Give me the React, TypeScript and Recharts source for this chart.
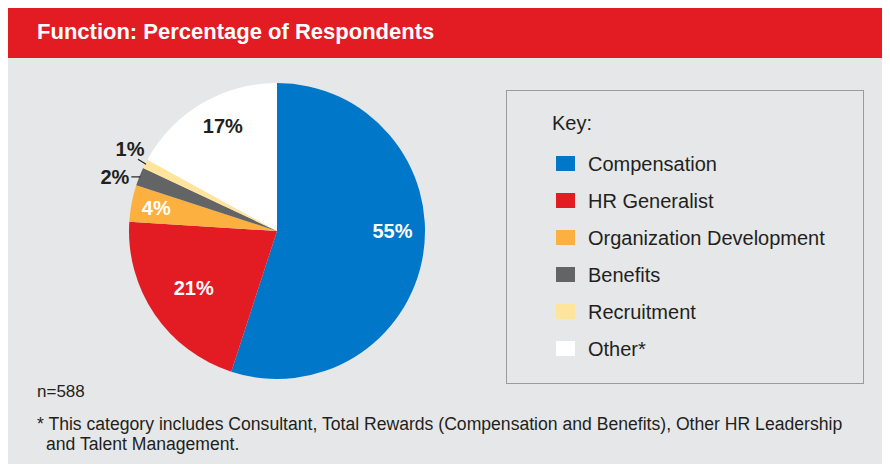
import React from 'react';
import { PieChart, Pie, Cell, Legend } from 'recharts';

// values
const categories = ['Compensation', 'HR Generalist', 'Organization Development', 'Benefits', 'Recruitment', 'Other*'];
const percentages = [55, 21, 4, 2, 1, 17];
const sampleNote = 'n=588';
const footnote =
  '* This category includes Consultant, Total Rewards (Compensation and Benefits), Other HR Leadership';
const footnote2 = 'and Talent Management.';

const COLORS = ['#0077c8', '#e31b23', '#fbb040', '#636466', '#fee59b', '#ffffff'];
const FONT = '"Liberation Sans", Arial, Helvetica, sans-serif';
const RADIAN = Math.PI / 180;

// label placement per slice (inside: radius factor + angle shift, outside: leader line)
const labelStyle = [
  { kind: 'in', r: 0.78, shift: 9, color: '#ffffff' },
  { kind: 'in', r: 0.68, shift: 0, color: '#ffffff' },
  { kind: 'in', r: 0.83, shift: 0, color: '#ffffff' },
  { kind: 'out', lx: -9, ly: 0, tx: -11, ty: 0, anchor: 'end' },
  { kind: 'out', lx: -8, ly: -5, tx: -16, ty: -15, anchor: 'middle' },
  { kind: 'in', r: 0.8, shift: -3.4, color: '#231f20' },
];

const data = categories.map((name, i) => ({ name, value: percentages[i] }));

const renderLabel = (props: any) => {
  const { cx, cy, midAngle, outerRadius, index, value } = props;
  const st: any = labelStyle[index];
  if (st.kind === 'in') {
    const a = (midAngle + st.shift) * RADIAN;
    const r = outerRadius * st.r;
    const x = cx + r * Math.cos(-a);
    const y = cy + r * Math.sin(-a);
    return (
      <text x={x} y={y} fill={st.color} textAnchor="middle" dominantBaseline="central"
        style={{ fontFamily: FONT, fontSize: 20, fontWeight: 700 }}>
        {value}%
      </text>
    );
  }
  const a = midAngle * RADIAN;
  const ex = cx + (outerRadius - 1) * Math.cos(-a);
  const ey = cy + (outerRadius - 1) * Math.sin(-a);
  return (
    <g>
      <line x1={ex} y1={ey} x2={ex + st.lx} y2={ey + st.ly} stroke="#231f20" strokeWidth={1.2} />
      <text x={ex + st.tx} y={ey + st.ty} fill="#231f20" textAnchor={st.anchor} dominantBaseline="central"
        style={{ fontFamily: FONT, fontSize: 20, fontWeight: 700 }}>
        {value}%
      </text>
    </g>
  );
};

const renderLegend = () => (
  <div
    style={{
      width: 358,
      height: 294,
      boxSizing: 'border-box',
      border: '1.5px solid #9a9b9d',
      position: 'relative',
      fontFamily: FONT,
      color: '#231f20',
    }}
  >
    <div style={{ position: 'absolute', left: 45, top: 20, fontSize: 20, lineHeight: '24px' }}>Key:</div>
    {categories.map((c, i) => (
      <div key={c} style={{ position: 'absolute', left: 0, top: 73 + i * 37 - 12, height: 24, width: '100%' }}>
        <div style={{ position: 'absolute', left: 49, top: 4, width: 19, height: 15, background: COLORS[i] }} />
        <div style={{ position: 'absolute', left: 81, top: 0, fontSize: 20, lineHeight: '24px', whiteSpace: 'nowrap' }}>
          {c}
        </div>
      </div>
    ))}
  </div>
);

export default function App() {
  return (
    <div
      style={{
        position: 'relative',
        top: -4,
        width: 879,
        height: 460,
        background: '#e6e7e8',
        fontFamily: FONT,
        overflow: 'hidden',
      }}
    >
      <div
        style={{
          height: 54,
          background: '#e31b23',
          color: '#ffffff',
          fontSize: 22,
          fontWeight: 700,
          lineHeight: '54px',
          paddingLeft: 29,
          paddingTop: 1,
          boxSizing: 'border-box',
        }}
      >
        Function: Percentage of Respondents
      </div>
      <div style={{ position: 'absolute', left: 0, top: 54 }}>
        <PieChart width={879} height={406} margin={{ top: 0, right: 0, bottom: 0, left: 0 }}>
          <Pie
            data={data}
            dataKey="value"
            nameKey="name"
            cx={269}
            cy={173}
            outerRadius={148}
            startAngle={90}
            endAngle={-270}
            stroke="none"
            label={renderLabel}
            labelLine={false}
            isAnimationActive={false}
          >
            {data.map((d, i) => (
              <Cell key={d.name} fill={COLORS[i]} />
            ))}
          </Pie>
          <Legend
            content={renderLegend}
            wrapperStyle={{ position: 'absolute', left: 498, top: 32, width: 358, height: 294 }}
          />
        </PieChart>
      </div>
      <div style={{ position: 'absolute', left: 29, top: 378, fontSize: 17, lineHeight: '20px', color: '#231f20' }}>
        {sampleNote}
      </div>
      <div style={{ position: 'absolute', left: 29, top: 410, fontSize: 17.6, lineHeight: '20px', color: '#231f20', whiteSpace: 'nowrap' }}>
        <div>{footnote}</div>
        <div style={{ paddingLeft: 9 }}>{footnote2}</div>
      </div>
    </div>
  );
}
